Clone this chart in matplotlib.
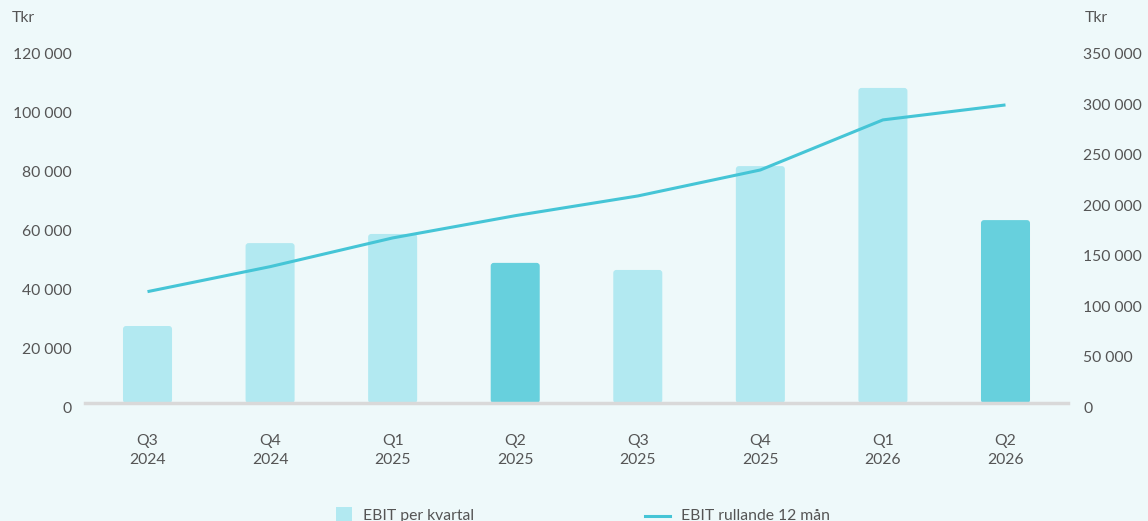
import matplotlib.pyplot as plt
from matplotlib.lines import Line2D
from matplotlib.patches import Rectangle, FancyBboxPatch
from matplotlib.transforms import blended_transform_factory, offset_copy

# Data
quarters = ['Q3\n2024', 'Q4\n2024', 'Q1\n2025', 'Q2\n2025', 'Q3\n2025', 'Q4\n2025', 'Q1\n2026', 'Q2\n2026']
ebit_quarter = [26100, 54200, 57300, 47500, 45100, 80300, 106800, 62000]
ebit_rolling = [110100, 134800, 163200, 185200, 204700, 230400, 279900, 294700]
highlight = [False, False, False, True, False, False, False, True]

left_ticks = [0, 20000, 40000, 60000, 80000, 100000, 120000]
right_ticks = [0, 50000, 100000, 150000, 200000, 250000, 300000, 350000]

bg = '#EEF9FA'
light = '#B2E9F1'
dark = '#67D0DD'
line_col = '#45C5D6'
text_col = '#555555'
fs = 11.3

plt.rcParams['font.family'] = ['Lato', 'DejaVu Sans']


def fmt(v):
    return f'{v:,}'.replace(',', ' ')


W, H = 1148, 521
fig = plt.figure(figsize=(W / 100, H / 100), dpi=100, facecolor=bg)
ax = fig.add_axes([85 / W, 1 - 403 / H, (1068 - 85) / W, 354 / H])
ax.set_facecolor(bg)

x = list(range(len(quarters)))
bars = ax.bar(x, ebit_quarter, width=0.4, color=[dark if h else light for h in highlight], zorder=2)
ax.set_xlim(-0.51, 7.51)
ax.set_ylim(0, 120000)

# swap the plain bars for ones with slightly rounded corners
aspect = (120000 / 354) / (8.02 / (1068 - 85))
for b in bars:
    ax.add_patch(FancyBboxPatch((b.get_x(), b.get_y()), b.get_width(), b.get_height(),
                                boxstyle='round,pad=0,rounding_size=0.025', mutation_aspect=aspect,
                                facecolor=b.get_facecolor(), edgecolor='none', zorder=2))
    b.set_visible(False)

ax.set_xticks(x)
ax.set_xticklabels(quarters, linespacing=1.45, fontsize=fs, color=text_col)
ax.set_yticks([])

ax2 = ax.twinx()
ax2.plot(x, ebit_rolling, color=line_col, lw=2.2, zorder=3, solid_capstyle='butt')
ax2.set_ylim(0, 350000)
ax2.set_yticks([])

for a in (ax, ax2):
    for s in a.spines.values():
        s.set_visible(False)
ax.tick_params(axis='x', length=0, pad=22)
ax.spines['bottom'].set_visible(True)
ax.spines['bottom'].set_color('#D9D9D9')
ax.spines['bottom'].set_linewidth(2.5)
ax.spines['bottom'].set_zorder(2.5)

# y tick labels sit a few pixels below their values in the reference
tl = offset_copy(blended_transform_factory(fig.transFigure, ax.transData), fig=fig, x=0, y=-6, units='dots')
for v in left_ticks:
    ax.text(72 / W, v, fmt(v), transform=tl, ha='right', va='center', fontsize=fs, color=text_col)
tr = offset_copy(blended_transform_factory(fig.transFigure, ax2.transData), fig=fig, x=0, y=-6, units='dots')
for v in right_ticks:
    ax2.text(1083 / W, v, fmt(v), transform=tr, ha='left', va='center', fontsize=fs, color=text_col)

fig.text(12 / W, 1 - 18 / H, 'Tkr', fontsize=fs, color=text_col, va='center', ha='left')
fig.text(1085 / W, 1 - 18 / H, 'Tkr', fontsize=fs, color=text_col, va='center', ha='left')

# legend, partly cut by the bottom edge as in the reference
fig.add_artist(Rectangle((336 / W, 0), 16 / W, 14 / H, transform=fig.transFigure,
                         facecolor=light, edgecolor='none'))
fig.text(363 / W, 1 - 516 / H, 'EBIT per kvartal', fontsize=fs, color=text_col, va='center', ha='left')
fig.add_artist(Line2D([645 / W, 670 / W], [1 - 516 / H] * 2, transform=fig.transFigure,
                      color=line_col, lw=2.2))
fig.text(681 / W, 1 - 516 / H, 'EBIT rullande 12 mån', fontsize=fs, color=text_col, va='center', ha='left')

fig.savefig('out.png', dpi=100, facecolor=bg)
